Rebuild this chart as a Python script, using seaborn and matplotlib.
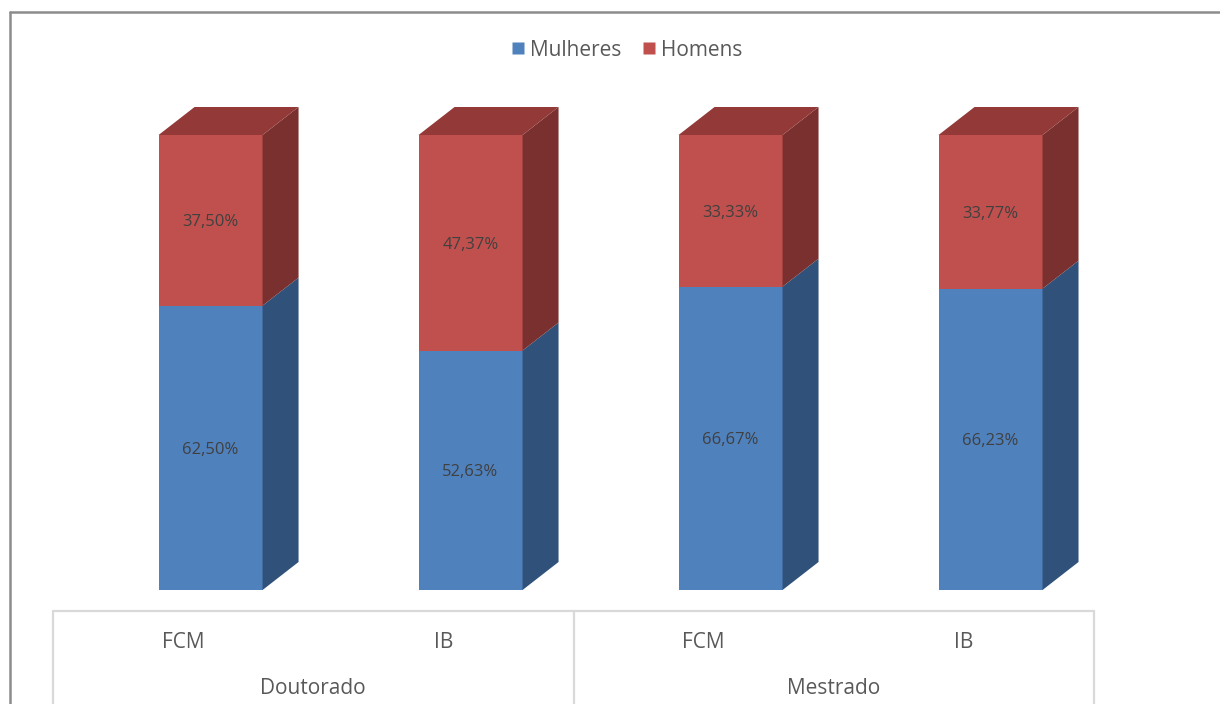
import matplotlib
matplotlib.use("Agg")
import matplotlib.pyplot as plt
from matplotlib.patches import Polygon
from matplotlib.lines import Line2D
import seaborn as sns
import pandas as pd
import numpy as np

# ---- data ----
groups = ["Doutorado", "Doutorado", "Mestrado", "Mestrado"]
institutes = ["FCM", "IB", "FCM", "IB"]
mulheres = [62.50, 52.63, 66.67, 66.23]
homens = [37.50, 47.37, 33.33, 33.77]
series_names = ["Mulheres", "Homens"]

c_blue, c_blue_side = "#4F81BD", "#30527A"
c_red, c_red_side, c_red_top = "#C0504D", "#7A302E", "#933937"

df = pd.DataFrame({
    "cat": [f"{g} {i}" for g, i in zip(groups, institutes)],
    "Mulheres": mulheres,
    "Homens": homens,
})
df["Total"] = df["Mulheres"] + df["Homens"]

sns.set_style("white")
plt.rcParams["font.family"] = ["Open Sans", "DejaVu Sans"]

W, H = 1220, 704
fig = plt.figure(figsize=(W / 100, H / 100), dpi=100)
ax = fig.add_axes([53 / W, 1 - 590 / H, (1094 - 53) / W, 455 / H])

sns.barplot(data=df, x="cat", y="Total", color=c_red, saturation=1,
            width=0.4, ax=ax, linewidth=0, errorbar=None)
sns.barplot(data=df, x="cat", y="Mulheres", color=c_blue, saturation=1,
            width=0.4, ax=ax, linewidth=0, errorbar=None)

ax.set_xlim(-0.606, 3.398)
ax.set_ylim(0, 100)
for s in ax.spines.values():
    s.set_visible(False)
ax.set_xticks([])
ax.set_yticks([])
ax.set_xlabel("")
ax.set_ylabel("")

# 3D faces (depth offset in pixels)
DX, DY = 36, 28
to_disp = ax.transData
to_data = ax.transData.inverted()


def poly(pts_data, offs, color, z, ec="none", lw=0):
    disp = to_disp.transform(pts_data)
    disp = disp + np.array(offs)
    dat = to_data.transform(disp)
    p = Polygon(dat, closed=True, facecolor=color, edgecolor=ec, linewidth=lw,
                clip_on=False, zorder=z)
    ax.add_patch(p)


n = len(df)
red_patches = ax.patches[:n]
for i in range(n):
    rp = red_patches[i]
    x0 = rp.get_x()
    w = rp.get_width()
    x1 = x0 + w
    m = mulheres[i]
    tot = m + homens[i]
    # blue side
    poly([(x1, 0), (x1, 0), (x1, m), (x1, m)],
         [(0, 0), (DX, DY), (DX, DY), (0, 0)], c_blue_side, 3)
    # red side
    poly([(x1, m), (x1, m), (x1, tot), (x1, tot)],
         [(0, 0), (DX, DY), (DX, DY), (0, 0)], c_red_side, 3)
    # top
    poly([(x0, tot), (x1, tot), (x1, tot), (x0, tot)],
         [(0, 0), (0, 0), (DX, DY), (DX, DY)], c_red_top, 3)
    # labels
    xc = x0 + w / 2
    ax.text(xc, m / 2, f"{m:.2f}%".replace(".", ","), ha="center",
            va="center_baseline", fontsize=12, color="#404040", zorder=5)
    ax.text(xc, m + homens[i] / 2, f"{homens[i]:.2f}%".replace(".", ","),
            ha="center", va="center_baseline", fontsize=12, color="#404040", zorder=5)

# category table
tc = "#D9D9D9"
ytop = -21 / 455
ybot = -130 / 455
ax.add_line(Line2D([0, 1], [ytop, ytop], transform=ax.transAxes,
                   color=tc, lw=1.6, clip_on=False))
for xv in [0, 0.5, 1]:
    ax.add_line(Line2D([xv, xv], [ytop, ybot], transform=ax.transAxes,
                       color=tc, lw=1.6, clip_on=False))
for k, inst in enumerate(institutes):
    ax.text((2 * k + 1) / 8, -52 / 455, inst, transform=ax.transAxes,
            ha="center", va="center", fontsize=15, color="#595959")
for k, g in enumerate(["Doutorado", "Mestrado"]):
    ax.text((2 * k + 1) / 4, -99 / 455, g, transform=ax.transAxes,
            ha="center", va="center", fontsize=15, color="#595959")

# legend
handles = [Line2D([], [], marker="s", linestyle="none", markersize=9,
                  markerfacecolor=c, markeredgecolor="none")
           for c in (c_blue, c_red)]
fig.legend(handles, series_names, loc="center", bbox_to_anchor=(626 / W, 1 - 50 / H),
           ncol=2, frameon=False, fontsize=15, labelcolor="#595959",
           handletextpad=0.18, columnspacing=0.95, handlelength=0.8)

# outer border
bc = "#8C8C8C"
fig.add_artist(Line2D([10 / W, 1.0], [1 - 12 / H, 1 - 12 / H],
                      transform=fig.transFigure, color=bc, lw=1.8))
fig.add_artist(Line2D([10 / W, 10 / W], [1 - 12 / H, 0],
                      transform=fig.transFigure, color=bc, lw=1.8))

fig.savefig("out.png", dpi=100)
